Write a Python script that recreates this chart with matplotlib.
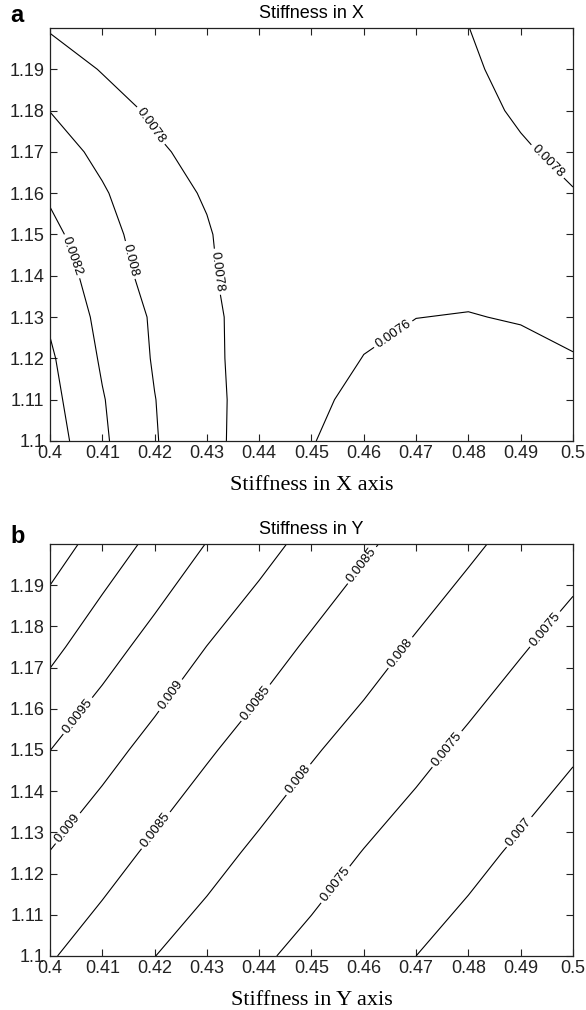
import numpy as np
import matplotlib
matplotlib.use('Agg')
import matplotlib.pyplot as plt

plt.rcParams['font.family'] = ['Liberation Sans', 'DejaVu Sans']

# grid for panel a (rows = y, cols = x)
xs_a = [0.40, 0.41, 0.42, 0.43, 0.44, 0.45, 0.46, 0.47, 0.48, 0.49, 0.50]
ys_a = [1.10, 1.11, 1.12, 1.13, 1.14, 1.15, 1.16, 1.17, 1.18, 1.19, 1.20]
z_a = [
    [0.008502, 0.008230, 0.008013, 0.007847, 0.007721, 0.007604, 0.007560, 0.007515, 0.007510, 0.007510, 0.007510],
    [0.008460, 0.008212, 0.008004, 0.007850, 0.007721, 0.007622, 0.007572, 0.007540, 0.007540, 0.007540, 0.007551],
    [0.008427, 0.008177, 0.007984, 0.007842, 0.007720, 0.007640, 0.007598, 0.007570, 0.007570, 0.007570, 0.007592],
    [0.008375, 0.008148, 0.007975, 0.007842, 0.007715, 0.007650, 0.007619, 0.007601, 0.007596, 0.007607, 0.007642],
    [0.008318, 0.008105, 0.007932, 0.007822, 0.007710, 0.007660, 0.007640, 0.007640, 0.007627, 0.007655, 0.007690],
    [0.008250, 0.008070, 0.007900, 0.007813, 0.007700, 0.007660, 0.007652, 0.007665, 0.007664, 0.007698, 0.007742],
    [0.008175, 0.008020, 0.007862, 0.007786, 0.007690, 0.007660, 0.007665, 0.007690, 0.007700, 0.007740, 0.007793],
    [0.008090, 0.007952, 0.007826, 0.007745, 0.007675, 0.007655, 0.007668, 0.007705, 0.007725, 0.007781, 0.007840],
    [0.007997, 0.007878, 0.007772, 0.007720, 0.007660, 0.007650, 0.007670, 0.007720, 0.007750, 0.007822, 0.007890],
    [0.007895, 0.007790, 0.007714, 0.007683, 0.007645, 0.007645, 0.007665, 0.007730, 0.007774, 0.007857, 0.007935],
    [0.007786, 0.007696, 0.007656, 0.007645, 0.007630, 0.007640, 0.007660, 0.007740, 0.007798, 0.007900, 0.007980],
]
levels_a = [0.0076, 0.0078, 0.0080, 0.0082, 0.0084]

# grid for panel b
xs_b = [0.40, 0.41, 0.42, 0.43, 0.44, 0.45, 0.46, 0.47, 0.48, 0.49, 0.50]
ys_b = [1.100, 1.125, 1.150, 1.175, 1.200]
z_b = [
    [0.008539, 0.008270, 0.008005, 0.007785, 0.007566, 0.007370, 0.007185, 0.007000, 0.006833, 0.006667, 0.006500],
    [0.008988, 0.008694, 0.008412, 0.008155, 0.007914, 0.007698, 0.007485, 0.007301, 0.007116, 0.006934, 0.006755],
    [0.009504, 0.009161, 0.008846, 0.008555, 0.008295, 0.008043, 0.007825, 0.007614, 0.007415, 0.007232, 0.007048],
    [0.010129, 0.009698, 0.009327, 0.008994, 0.008707, 0.008431, 0.008185, 0.007948, 0.007741, 0.007533, 0.007346],
    [0.010748, 0.010289, 0.009869, 0.009487, 0.009160, 0.008855, 0.008571, 0.008319, 0.008077, 0.007862, 0.007659],
]
levels_b = [0.0070, 0.0075, 0.0080, 0.0085, 0.0090, 0.0095, 0.0100, 0.0105]

xticks = [0.40, 0.41, 0.42, 0.43, 0.44, 0.45, 0.46, 0.47, 0.48, 0.49, 0.50]
xtick_labels = ['0.4', '0.41', '0.42', '0.43', '0.44', '0.45', '0.46', '0.47', '0.48', '0.49', '0.5']
yticks = [1.10, 1.11, 1.12, 1.13, 1.14, 1.15, 1.16, 1.17, 1.18, 1.19]
ytick_labels = ['1.1', '1.11', '1.12', '1.13', '1.14', '1.15', '1.16', '1.17', '1.18', '1.19']

# where the inline labels sit
labels_a = [(0.4191, 1.1762), (0.4322, 1.141), (0.4159, 1.144), (0.4042, 1.1447),
            (0.495, 1.1675), (0.465, 1.127)]
labels_b = [(0.4052, 1.1584), (0.4226, 1.1637), (0.4388, 1.162), (0.4593, 1.1952),
            (0.4665, 1.1741), (0.4943, 1.1797), (0.4032, 1.1312), (0.4197, 1.131),
            (0.4472, 1.1431), (0.4535, 1.1184), (0.4746, 1.1516), (0.4893, 1.1305)]


def setup(ax, title, xlabel):
    ax.set_xlim(0.4, 0.5)
    ax.set_ylim(1.1, 1.2)
    ax.set_xticks(xticks)
    ax.set_xticklabels(xtick_labels)
    ax.set_yticks(yticks)
    ax.set_yticklabels(ytick_labels)
    ax.tick_params(direction='in', top=True, right=True, length=5, width=0.8,
                   labelsize=13, colors='#222222')
    ax.tick_params(axis='x', pad=3)
    ax.tick_params(axis='y', pad=4)
    for s in ax.spines.values():
        s.set_linewidth(0.9)
        s.set_color('#222222')
    ax.set_title(title, fontsize=13, pad=7)
    ax.set_xlabel(xlabel, fontsize=16, family='Liberation Serif', labelpad=10)


def draw(ax, xs, ys, z, levels, lab_pos):
    X, Y = np.meshgrid(xs, ys)
    cs = ax.contour(X, Y, np.array(z), levels=levels, colors='black', linewidths=0.8)
    ax.clabel(cs, fmt='%g', fontsize=9.5, inline=True, inline_spacing=3, manual=lab_pos)


fig = plt.figure(figsize=(5.86, 10.1), dpi=100)
ax1 = fig.add_axes([0.0853, 0.5634, 0.8925, 0.4089])
ax2 = fig.add_axes([0.0853, 0.0535, 0.8925, 0.4079])

draw(ax1, xs_a, ys_a, z_a, levels_a, labels_a)
setup(ax1, 'Stiffness in X', 'Stiffness in X axis')
draw(ax2, xs_b, ys_b, z_b, levels_b, labels_b)
setup(ax2, 'Stiffness in Y', 'Stiffness in Y axis')

fig.text(10 / 586, 1 - 22 / 1010, 'a', fontsize=17, fontweight='bold')
fig.text(10 / 586, 1 - 543 / 1010, 'b', fontsize=17, fontweight='bold')

fig.savefig('out.png', dpi=100)
